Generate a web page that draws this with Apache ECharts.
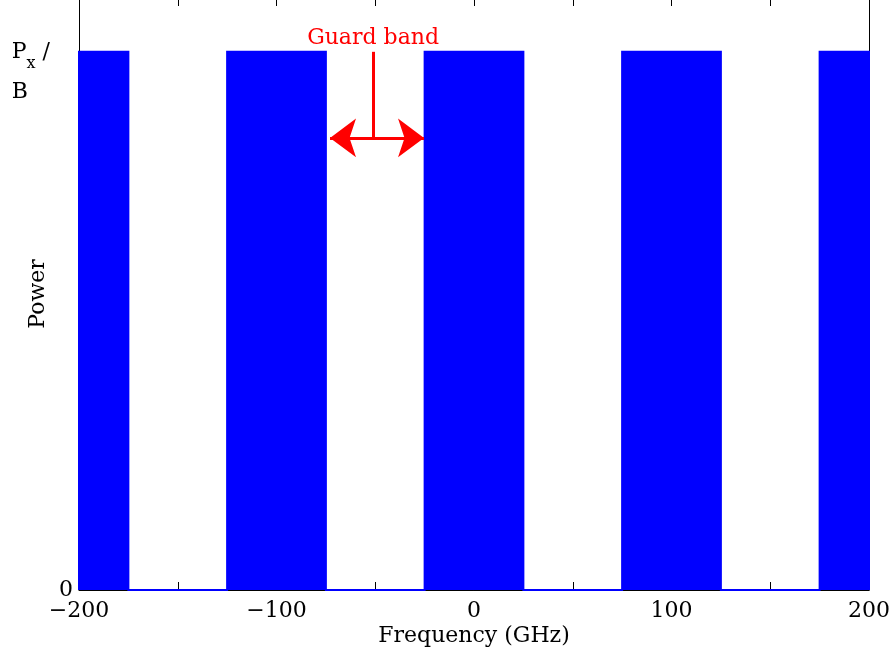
<!DOCTYPE html>
<html><head><meta charset="utf-8">
<script src="https://cdn.jsdelivr.net/npm/echarts@6/dist/echarts.min.js"></script>
<style>html,body{margin:0;padding:0;background:#fff}#c{width:892px;height:658px}</style>
</head><body><div id="c"></div>
<script>
// Band edges (GHz) and power level of each channel
const bandStart = [-225, -125, -25, 75, 175];
const bandEnd   = [-175, -75, 25, 125, 225];
const bandPower = [1, 1, 1, 1, 1];
// Axis ticks
const xMin = -200, xMax = 200, xStep = 50;
const xLabelValues = [-200, -100, 0, 100, 200];
const yLabelValues = [0, 1];
// Guard band annotation (data coords)
const guardArrowX = [-72.9, -25.3];
const guardArrowY = 0.84;
const guardStemX = -51.1;
const guardLabel = 'Guard band';

const FONT = 'DejaVu Serif';
const FS = 22;
const pts = [];
for (let i = 0; i < bandStart.length; i++) {
  pts.push([bandStart[i], 0], [bandStart[i], bandPower[i]], [bandEnd[i], bandPower[i]], [bandEnd[i], 0]);
}

const chart = echarts.init(document.getElementById('c'), null, {renderer: 'canvas'});
const tickCommon = {show: true, inside: true, length: 8, lineStyle: {color: '#000', width: 1}};
chart.setOption({
  animation: false,
  grid: {left: 79, right: 23, top: -2, bottom: 68, containLabel: false, outerBoundsMode: 'none'},
  xAxis: [{
    type: 'value', min: xMin, max: xMax, interval: xStep, position: 'bottom',
    axisLine: {show: true, onZero: false, lineStyle: {color: '#000', width: 1}},
    axisTick: tickCommon, splitLine: {show: false},
    axisLabel: {
      margin: 10, color: '#000', fontFamily: FONT, fontSize: FS,
      formatter: v => xLabelValues.indexOf(v) < 0 ? '' : (v < 0 ? '\u2212' + Math.abs(v) : String(v))
    },
    name: 'Frequency (GHz)', nameLocation: 'middle', nameGap: 35, nameMoveOverlap: false,
    nameTextStyle: {color: '#000', fontFamily: FONT, fontSize: FS}
  }, {
    type: 'value', min: xMin, max: xMax, interval: xStep, position: 'top',
    axisLine: {show: true, onZero: false, lineStyle: {color: '#000', width: 1}},
    axisTick: tickCommon, axisLabel: {show: false}, splitLine: {show: false}
  }],
  yAxis: [{
    type: 'value', min: 0, max: 1.1, interval: 1, position: 'left',
    axisLine: {show: true, onZero: false, lineStyle: {color: '#000', width: 1}},
    axisTick: tickCommon, splitLine: {show: false},
    axisLabel: {
      showMaxLabel: false, margin: 6, color: '#000', fontFamily: FONT, fontSize: FS, align: 'right',
      formatter: v => {
        if (yLabelValues.indexOf(v) < 0) return '';
        if (v === 0) return '0';
        return '{e| }\n{p|P}{s|x}{q| /}\n{b|B}';
      },
      rich: {
        e: {fontFamily: FONT, fontSize: FS, lineHeight: 40, color: '#000'},
        p: {fontFamily: FONT, fontSize: FS, lineHeight: 40, color: '#000', align: 'left'},
        q: {fontFamily: FONT, fontSize: FS, lineHeight: 40, color: '#000', padding: [0, 23, 0, 0], align: 'left'},
        s: {fontFamily: FONT, fontSize: 16, lineHeight: 40, color: '#000', verticalAlign: 'bottom', padding: [14, 0, 0, 0], align: 'left'},
        b: {fontFamily: FONT, fontSize: FS, lineHeight: 40, color: '#000', align: 'left'}
      }
    },
    name: 'Power', nameLocation: 'middle', nameGap: 30, nameMoveOverlap: false,
    nameTextStyle: {color: '#000', fontFamily: FONT, fontSize: FS}
  }, {
    type: 'value', min: 0, max: 1.1, interval: 1, position: 'right',
    axisLine: {show: true, onZero: false, lineStyle: {color: '#000', width: 1}},
    axisTick: tickCommon, axisLabel: {show: false}, splitLine: {show: false}
  }],
  series: [{
    type: 'line', xAxisIndex: 0, yAxisIndex: 0, data: pts, showSymbol: false, symbol: 'none',
    clip: true, lineStyle: {color: '#0000ff', width: 2, join: 'miter', cap: 'butt'},
    areaStyle: {color: '#0000ff', opacity: 1},
    markLine: {
      silent: true, animation: false,
      lineStyle: {color: '#ff0000', width: 3, type: 'solid'},
      label: {show: false},
      data: [
        [{coord: [guardArrowX[0], guardArrowY], symbol: 'arrow', symbolSize: [29, 26]},
         {coord: [guardArrowX[1], guardArrowY], symbol: 'arrow', symbolSize: [29, 26]}],
        [{coord: [guardStemX, 1], symbol: 'none',
          label: {show: true, position: 'start', formatter: guardLabel, color: '#ff0000', fontFamily: FONT, fontSize: FS, distance: 3}},
         {coord: [guardStemX, guardArrowY], symbol: 'none'}]
      ]
    }
  }]
});
</script></body></html>
